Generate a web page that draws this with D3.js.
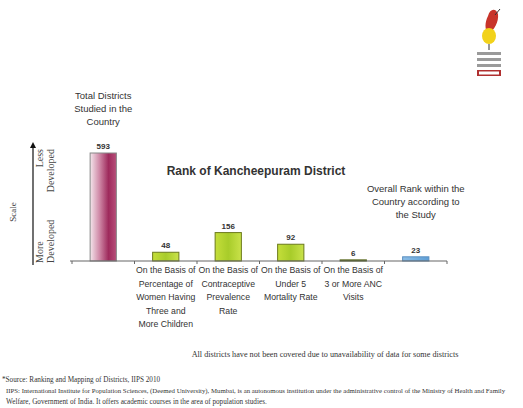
<!DOCTYPE html>
<html>
<head>
<meta charset="utf-8">
<script src="https://cdn.jsdelivr.net/npm/d3@7"></script>
<style>
  body { margin: 0; background: #fff; }
  svg { display: block; }
</style>
</head>
<body>
<svg id="chart"></svg>
<script>
// data
const categories = ['total', 'women', 'cpr', 'u5mr', 'anc', 'overall'];
const values = [593, 48, 156, 92, 6, 23];
const valueLabels = ['593', '48', '156', '92', '6', '23'];
const catLabels = [
    [],
    ['On the Basis of', 'Percentage of', 'Women Having', 'Three and', 'More Children'],
    ['On the Basis of', 'Contraceptive', 'Prevalence', 'Rate'],
    ['On the Basis of', 'Under 5', 'Mortality Rate'],
    ['On the Basis of', '3 or More ANC', 'Visits'],
    []
];
const topLabels = {
    total: ['Total Districts', 'Studied in the', 'Country'],
    overall: ['Overall Rank within the', 'Country according to', 'the Study']
};

const W = 523, H = 408;
const svg = d3.select('#chart').attr('width', W).attr('height', H);

const margin = {left: 72, right: 76, top: 153, bottom: 147};
const innerW = W - margin.left - margin.right;
const innerH = H - margin.top - margin.bottom;

const chart = svg.append('g')
    .attr('transform', `translate(${margin.left}, ${margin.top})`);

const xscale = d3.scaleBand()
    .domain(categories)
    .range([0, innerW])
    .paddingInner(0.58)
    .paddingOuter(0.29);

const yscale = d3.scaleLinear()
    .domain([0, 593])
    .range([innerH, 0]);

const sans = '"Liberation Sans", Arial, sans-serif';
const serif = '"Liberation Serif", "Times New Roman", serif';

// gradients
const defs = svg.append('defs');
function grad(id, stops) {
    const g = defs.append('linearGradient').attr('id', id)
        .attr('x1', '0%').attr('y1', '0%').attr('x2', '100%').attr('y2', '0%');
    stops.forEach(s => g.append('stop').attr('offset', s[0]).attr('stop-color', s[1]));
}
grad('maroon', [['0%', '#f4e6ec'], ['35%', '#d08aa8'], ['70%', '#9e2a5c'], ['100%', '#b84f7a']]);
grad('green', [['0%', '#c5de3a'], ['50%', '#a8cc2a'], ['100%', '#c9e24a']]);
grad('blue', [['0%', '#8cbde6'], ['100%', '#5e9fd6']]);

const fills = ['url(#maroon)', 'url(#green)', 'url(#green)', 'url(#green)', 'url(#green)', 'url(#blue)'];
const strokes = ['#888', '#6b7a1c', '#6b7a1c', '#6b7a1c', '#4a5a10', '#5a8fc0'];

chart.selectAll('rect.bar')
    .data(values)
    .join('rect')
    .attr('class', 'bar')
    .attr('x', (d, i) => xscale(categories[i]))
    .attr('y', d => yscale(d))
    .attr('width', xscale.bandwidth())
    .attr('height', d => Math.max(1, innerH - yscale(d)))
    .attr('fill', (d, i) => fills[i])
    .attr('stroke', (d, i) => strokes[i])
    .attr('stroke-width', 1);

chart.selectAll('text.val')
    .data(values)
    .join('text')
    .attr('class', 'val')
    .attr('x', (d, i) => xscale(categories[i]) + xscale.bandwidth() / 2)
    .attr('y', d => yscale(d) - 4)
    .attr('text-anchor', 'middle')
    .style('font', `bold 8px ${sans}`)
    .attr('fill', '#333')
    .text((d, i) => valueLabels[i]);

// x axis with ticks between bands
const xaxis_group = chart.append('g').attr('transform', `translate(0, ${innerH})`);
xaxis_group.append('line')
    .attr('x1', -2).attr('x2', innerW)
    .attr('stroke', '#666').attr('stroke-width', 1.2);
const step = xscale.step();
const tickXs = d3.range(categories.length + 1).map(i => xscale(categories[0]) - step * xscale.paddingInner() / 2 + i * step);
xaxis_group.selectAll('line.tick')
    .data(tickXs)
    .join('line')
    .attr('class', 'tick')
    .attr('x1', d => d).attr('x2', d => d)
    .attr('y1', 0).attr('y2', 3)
    .attr('stroke', '#666');

// category labels
categories.forEach((c, i) => {
    const cx = xscale(c) + xscale.bandwidth() / 2;
    const t = chart.append('text')
        .attr('x', cx)
        .attr('y', innerH + 12)
        .attr('text-anchor', 'middle')
        .style('font', `8.7px ${sans}`)
        .attr('fill', '#333');
    catLabels[i].forEach((line, j) => {
        t.append('tspan').attr('x', cx).attr('dy', j === 0 ? 0 : 13.5).text(line);
    });
});

// labels above first and last bar
Object.keys(topLabels).forEach(k => {
    const cx = xscale(k) + xscale.bandwidth() / 2;
    const y0 = k === 'total' ? 99 - margin.top : 192 - margin.top;
    const t = chart.append('text')
        .attr('x', cx)
        .attr('y', y0)
        .attr('text-anchor', 'middle')
        .style('font', `9.5px ${sans}`)
        .attr('fill', '#333');
    topLabels[k].forEach((line, j) => {
        t.append('tspan').attr('x', cx).attr('dy', j === 0 ? 0 : 13).text(line);
    });
});

// title
svg.append('text')
    .attr('x', 256).attr('y', 175)
    .attr('text-anchor', 'middle')
    .style('font', `bold 12px ${sans}`)
    .attr('fill', '#333')
    .text('Rank of Kancheepuram District');

// scale arrow on the left
defs.append('marker')
    .attr('id', 'arrow').attr('viewBox', '0 0 10 10')
    .attr('refX', 5).attr('refY', 5)
    .attr('markerWidth', 5).attr('markerHeight', 5)
    .attr('orient', 'auto')
    .append('path').attr('d', 'M0,0 L10,5 L0,10 z').attr('fill', '#111');
svg.append('line')
    .attr('x1', 33).attr('y1', 265).attr('x2', 33).attr('y2', 145)
    .attr('stroke', '#111').attr('stroke-width', 1.2)
    .attr('marker-end', 'url(#arrow)');

function vtext(x, y, lines, size, anchor) {
    const t = svg.append('text')
        .attr('transform', `translate(${x},${y}) rotate(-90)`)
        .attr('text-anchor', anchor)
        .style('font', `${size}px ${serif}`)
        .attr('fill', '#444');
    lines.forEach((line, j) => {
        t.append('tspan').attr('x', 0).attr('dy', j === 0 ? 0 : size + 1).text(line);
    });
}
vtext(16, 212, ['Scale'], 9, 'middle');
vtext(43, 149, ['Less', 'Developed'], 10, 'end');
vtext(43, 263, ['More', 'Developed'], 10, 'start');

// notes
svg.append('text')
    .attr('x', 325).attr('y', 357)
    .attr('text-anchor', 'middle')
    .style('font', `8.2px ${serif}`)
    .attr('fill', '#333')
    .text('All districts have not been covered due to unavailability of data for some districts');

const footer = [
    '*Source: Ranking and Mapping of Districts, IIPS 2010',
    'IIPS: International Institute for Population Sciences, (Deemed University), Mumbai, is an autonomous institution under the administrative control of the Ministry of Health and Family',
    'Welfare, Government of India. It offers academic courses in the area of population studies.'
];
footer.forEach((line, i) => {
    svg.append('text')
        .attr('x', i === 0 ? 2 : 6).attr('y', 382 + i * 11)
        .style('font', `${i === 1 ? 6.8 : 7.2}px ${serif}`)
        .attr('fill', '#333')
        .text(line);
});

// logo in the top right corner
const logo = svg.append('g').attr('transform', 'translate(484, 0)');
logo.append('path')
    .attr('d', 'M4,16 C6,8 12,8 14,14 C15,22 10,30 5,34 C0,30 1,22 4,16 z')
    .attr('fill', '#c8342a');
logo.append('ellipse').attr('cx', 5).attr('cy', 36).attr('rx', 7).attr('ry', 8).attr('fill', '#f2d21a');
logo.append('line').attr('x1', 11).attr('y1', 15).attr('x2', 16).attr('y2', 9).attr('stroke', '#333').attr('stroke-width', 1);
logo.append('line').attr('x1', 5).attr('y1', 44).attr('x2', 5).attr('y2', 50).attr('stroke', '#777').attr('stroke-width', 1.5);
[52, 58, 64].forEach(y => {
    logo.append('rect').attr('x', -7).attr('y', y).attr('width', 24).attr('height', 3).attr('fill', '#9a9a9a');
});
logo.append('rect').attr('x', -7).attr('y', 70).attr('width', 24).attr('height', 6).attr('fill', '#b03030');
logo.append('rect').attr('x', -5).attr('y', 71.5).attr('width', 20).attr('height', 3).attr('fill', '#fff');
</script>
</body>
</html>
